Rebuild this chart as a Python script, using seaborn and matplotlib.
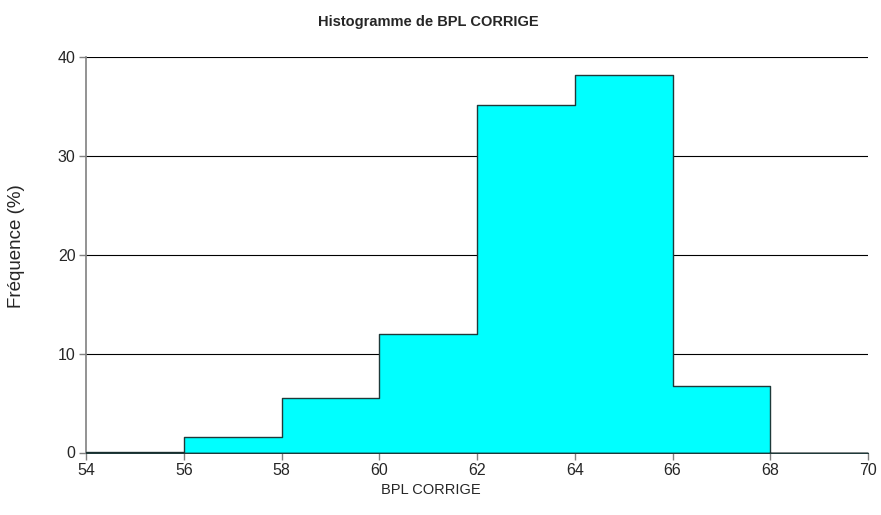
import numpy as np
import matplotlib
matplotlib.use("Agg")
import matplotlib.pyplot as plt
import seaborn as sns

# Histogram classes of BPL CORRIGE and their frequencies (%)
bin_edges = [54, 56, 58, 60, 62, 64, 66, 68, 70]
frequencies = [0.1, 1.6, 5.5, 12.0, 35.2, 38.2, 6.7, 0.0]
x_ticks = [54, 56, 58, 60, 62, 64, 66, 68, 70]
y_ticks = [0, 10, 20, 30, 40]

sns.set_theme(style="white")
plt.rcParams["font.family"] = ["Liberation Sans", "DejaVu Sans"]

W, H = 881, 515
fig = plt.figure(figsize=(W / 100, H / 100), dpi=100)
ax = fig.add_axes([86 / W, 1 - 452.5 / H, (868 - 86) / W, (452.5 - 57.3) / H])

centers = [(a + b) / 2 for a, b in zip(bin_edges[:-1], bin_edges[1:])]
sns.histplot(x=centers, weights=frequencies, bins=bin_edges, stat="count",
             element="step", fill=True, color="#00ffff", alpha=1.0,
             edgecolor="#1f3a3a", linewidth=1.0, ax=ax, zorder=3)

ax.set_xlim(54, 70)
ax.set_ylim(0, 40)
ax.set_xticks(x_ticks)
ax.set_yticks(y_ticks)
ax.yaxis.grid(True, color="black", linewidth=0.8, zorder=0)
ax.set_axisbelow(True)

for side in ("top", "right", "bottom"):
    ax.spines[side].set_visible(False)
ax.spines["left"].set_color("#808080")
ax.spines["left"].set_linewidth(1.2)
ax.axhline(0, color="black", linewidth=1.0, zorder=4)

ax.tick_params(axis="both", which="both", direction="out", length=5, width=1,
               color="#808080", labelsize=11.5, pad=2.5, bottom=True, left=True)
ax.set_xlabel("")
ax.set_ylabel("")

fig.text(428 / W, 1 - 22 / H, "Histogramme de BPL CORRIGE", fontsize=10.5,
         fontweight="bold", ha="center", va="center")
fig.text(431 / W, 1 - 490 / H, "BPL CORRIGE", fontsize=10.5,
         ha="center", va="center")
fig.text(17 / W, 1 - 246 / H, "Fréquence (%)", fontsize=13.5,
         rotation=90, ha="center", va="center")

fig.savefig("out.png", dpi=100)
